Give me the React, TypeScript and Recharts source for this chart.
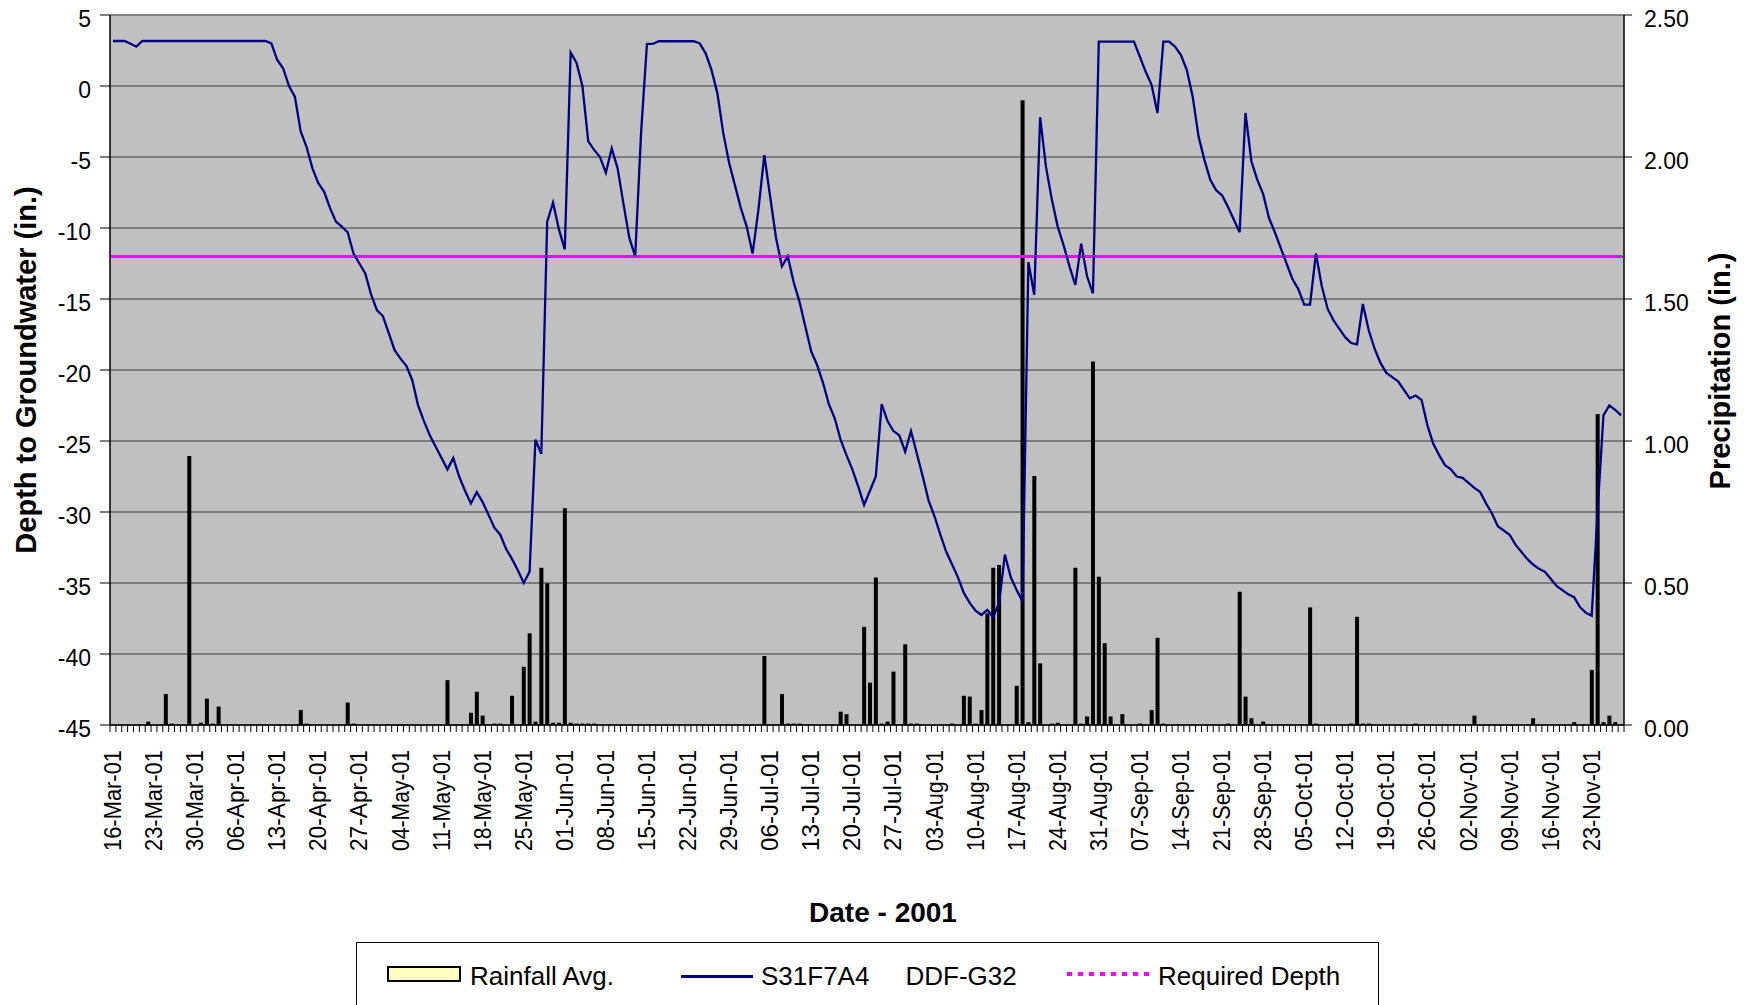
import React from "react";
import {
  ComposedChart,
  Bar,
  Line,
  XAxis,
  YAxis,
  CartesianGrid,
  ReferenceLine,
  Label,
} from "recharts";

const FONT = "'Liberation Sans', Arial, Helvetica, sans-serif";

// daily depth to groundwater (in.), 16-Mar-01 .. 29-Nov-01
const DEPTH_IN = [
  3.17, 3.17, 3.17, 2.97, 2.77, 3.17, 3.17, 3.17, 3.17, 3.17,
  3.17, 3.17, 3.17, 3.17, 3.17, 3.17, 3.17, 3.17, 3.17, 3.17,
  3.17, 3.17, 3.17, 3.17, 3.17, 3.17, 3.17, 3.0, 1.83, 1.25,
  0.0, -0.75, -3.2, -4.3, -5.8, -6.85, -7.45, -8.6, -9.55, -9.9,
  -10.3, -11.8, -12.5, -13.2, -14.7, -15.8, -16.2, -17.4, -18.6, -19.2,
  -19.7, -20.7, -22.5, -23.6, -24.6, -25.4, -26.2, -27.0, -26.2, -27.5,
  -28.5, -29.4, -28.6, -29.3, -30.2, -31.1, -31.6, -32.6, -33.3, -34.1,
  -35.0, -34.2, -24.9, -25.9, -9.55, -8.2, -10.1, -11.5, 2.35, 1.64,
  0.0, -3.9, -4.5, -5.0, -6.1, -4.4, -5.8, -8.3, -10.7, -12.0,
  -3.3, 2.96, 2.96, 3.15, 3.15, 3.15, 3.15, 3.15, 3.15, 3.15,
  3.0, 2.3, 1.13, -0.5, -3.3, -5.4, -7.0, -8.6, -9.9, -11.8,
  -8.7, -4.86, -7.8, -10.7, -12.7, -12.0, -13.8, -15.2, -16.95, -18.7,
  -19.65, -20.9, -22.4, -23.4, -24.9, -26.0, -27.0, -28.2, -29.5, -28.5,
  -27.5, -22.4, -23.6, -24.3, -24.6, -25.75, -24.3, -25.9, -27.5, -29.2,
  -30.3, -31.6, -32.8, -33.7, -34.6, -35.7, -36.4, -36.95, -37.25, -36.9,
  -37.4, -36.4, -33.0, -34.6, -35.5, -36.3, -12.4, -14.7, -2.2, -5.7,
  -8.0, -9.9, -11.2, -12.7, -14.0, -11.1, -13.4, -14.6, 3.12, 3.12,
  3.12, 3.12, 3.12, 3.12, 3.12, 2.06, 1.0, 0.07, -1.9, 3.12,
  3.12, 2.77, 2.18, 1.13, -0.75, -3.56, -5.2, -6.6, -7.35, -7.7,
  -8.5, -9.4, -10.3, -1.9, -5.3, -6.6, -7.6, -9.3, -10.3, -11.4,
  -12.5, -13.6, -14.3, -15.4, -15.4, -11.8, -14.1, -15.7, -16.5, -17.1,
  -17.7, -18.1, -18.2, -15.35, -17.2, -18.5, -19.5, -20.2, -20.5, -20.8,
  -21.4, -22.0, -21.8, -22.1, -23.9, -25.2, -26.0, -26.7, -27.0, -27.5,
  -27.6, -27.95, -28.3, -28.6, -29.4, -30.1, -31.0, -31.3, -31.6, -32.3,
  -32.8, -33.3, -33.7, -34.0, -34.2, -34.7, -35.2, -35.5, -35.8, -36.0,
  -36.7, -37.1, -37.3, -29.9, -23.2, -22.5, -22.8, -23.2,
];

// daily rainfall avg. (in.), same days
const RAIN_IN = [
  0, 0, 0, 0, 0, 0, 0.012, 0, 0, 0.109,
  0.005, 0, 0, 0.947, 0, 0.008, 0.093, 0.005, 0.065, 0,
  0, 0, 0, 0, 0, 0, 0, 0, 0, 0,
  0, 0, 0.053, 0.005, 0, 0, 0, 0, 0, 0,
  0.079, 0.005, 0, 0, 0, 0, 0, 0, 0, 0,
  0, 0, 0, 0, 0, 0, 0, 0.158, 0, 0,
  0, 0.043, 0.117, 0.033, 0, 0.005, 0.005, 0, 0.103, 0,
  0.205, 0.323, 0.012, 0.554, 0.499, 0.008, 0.008, 0.763, 0.008, 0.005,
  0.005, 0.005, 0.005, 0, 0, 0, 0, 0, 0, 0,
  0, 0, 0, 0, 0, 0, 0, 0, 0, 0,
  0, 0, 0, 0, 0, 0, 0, 0, 0, 0,
  0, 0.243, 0, 0, 0.109, 0.005, 0.005, 0.005, 0, 0,
  0, 0, 0, 0, 0.047, 0.038, 0, 0, 0.346, 0.149,
  0.519, 0.005, 0.012, 0.188, 0, 0.284, 0.005, 0.005, 0, 0,
  0, 0, 0, 0.005, 0, 0.103, 0.1, 0.005, 0.053, 0.393,
  0.554, 0.563, 0, 0, 0.138, 2.2, 0.01, 0.877, 0.217, 0,
  0.005, 0.008, 0, 0, 0.554, 0.005, 0.03, 1.28, 0.522, 0.288,
  0.03, 0, 0.038, 0, 0, 0.005, 0, 0.053, 0.307, 0.005,
  0, 0, 0, 0, 0, 0, 0, 0, 0, 0,
  0.005, 0, 0.469, 0.1, 0.024, 0, 0.012, 0, 0, 0,
  0, 0, 0, 0, 0.414, 0.005, 0, 0, 0, 0,
  0, 0.005, 0.381, 0.005, 0.005, 0, 0, 0, 0, 0,
  0, 0, 0.005, 0, 0, 0, 0, 0, 0, 0,
  0, 0, 0.033, 0, 0, 0, 0, 0, 0, 0,
  0, 0, 0.024, 0, 0, 0, 0, 0, 0, 0.01,
  0, 0, 0.194, 1.095, 0.01, 0.033, 0.01, 0,
];

// one label every 7 days
const TICK_LABELS = [
  "16-Mar-01", "23-Mar-01", "30-Mar-01", "06-Apr-01", "13-Apr-01", "20-Apr-01",
  "27-Apr-01", "04-May-01", "11-May-01", "18-May-01", "25-May-01", "01-Jun-01",
  "08-Jun-01", "15-Jun-01", "22-Jun-01", "29-Jun-01", "06-Jul-01", "13-Jul-01",
  "20-Jul-01", "27-Jul-01", "03-Aug-01", "10-Aug-01", "17-Aug-01", "24-Aug-01",
  "31-Aug-01", "07-Sep-01", "14-Sep-01", "21-Sep-01", "28-Sep-01", "05-Oct-01",
  "12-Oct-01", "19-Oct-01", "26-Oct-01", "02-Nov-01", "09-Nov-01", "16-Nov-01",
  "23-Nov-01",
];

const DEPTH_TICKS = [-45, -40, -35, -30, -25, -20, -15, -10, -5, 0, 5];
const RAIN_TICKS = [0, 0.5, 1, 1.5, 2, 2.5];
const REQUIRED_DEPTH = -12;

const data = DEPTH_IN.map((depth, i) => ({ day: i + 0.5, depth, rain: RAIN_IN[i] }));
const dayTicks = [...DEPTH_IN.map((_, i) => i), DEPTH_IN.length];

const DateTick = (props: any) => {
  const { x, y, payload } = props;
  const i = payload.value as number;
  if (i % 7 !== 0 || i / 7 >= TICK_LABELS.length) return <g />;
  const bx = x + 11;
  const by = y + 16;
  return (
    <text
      x={bx}
      y={by}
      transform={`rotate(-90, ${bx}, ${by})`}
      textAnchor="end"
      fontSize={23}
      fontFamily={FONT}
      fill="#000"
      textLength={101}
      lengthAdjust="spacingAndGlyphs"
    >
      {TICK_LABELS[i / 7]}
    </text>
  );
};

const LeftTick = (props: any) => (
  <text x={props.x} y={props.y + 12} textAnchor="end" fontSize={23} fontFamily={FONT} fill="#000">
    {props.payload.value}
  </text>
);

const RightTick = (props: any) => (
  <text x={props.x} y={props.y + 11.5} textAnchor="start" fontSize={23} fontFamily={FONT} fill="#000">
    {Number(props.payload.value).toFixed(2)}
  </text>
);

const vTitle = (text: string, x: number, y: number) => () => (
  <text
    x={x}
    y={y}
    transform={`rotate(-90, ${x}, ${y})`}
    textAnchor="middle"
    fontSize={29}
    fontWeight="bold"
    fontFamily={FONT}
    fill="#000"
  >
    {text}
  </text>
);

const legendText: React.CSSProperties = {
  position: "absolute",
  top: 20,
  fontSize: 26,
  lineHeight: "26px",
  fontFamily: FONT,
  whiteSpace: "pre",
  color: "#000",
};

export default function App() {
  return (
    <div style={{ position: "relative", width: 1754, height: 1005, overflow: "hidden", background: "#fff" }}>
      <style>{"body{margin:0}"}</style>
      <ComposedChart width={1754} height={1005} data={data} margin={{ top: 15, right: 0, bottom: 140, left: 0 }}>
        <CartesianGrid yAxisId="left" vertical={false} stroke="#3a3a3a" fill="#C0C0C0" />
        <XAxis
          type="number"
          dataKey="day"
          domain={[0, 258]}
          ticks={dayTicks}
          interval={0}
          tickSize={7}
          tickLine={{ stroke: "#000" }}
          axisLine={{ stroke: "#000", strokeWidth: 1.5 }}
          tick={DateTick}
          height={140}
        >
          <Label
            content={() => (
              <text x={883} y={922} textAnchor="middle" fontSize={28} fontWeight="bold" fontFamily={FONT} fill="#000">
                Date - 2001
              </text>
            )}
          />
        </XAxis>
        <YAxis
          yAxisId="left"
          orientation="left"
          width={110}
          domain={[-45, 5]}
          ticks={DEPTH_TICKS}
          interval={0}
          tickSize={10}
          tickMargin={9}
          tickLine={{ stroke: "#000" }}
          axisLine={{ stroke: "#000", strokeWidth: 1.5 }}
          tick={LeftTick}
        >
          <Label content={vTitle("Depth to Groundwater (in.)", 36, 370)} />
        </YAxis>
        <YAxis
          yAxisId="right"
          orientation="right"
          width={130}
          domain={[0, 2.5]}
          ticks={RAIN_TICKS}
          interval={0}
          tickSize={8}
          tickMargin={12}
          tickLine={{ stroke: "#000" }}
          axisLine={{ stroke: "#000", strokeWidth: 1.5 }}
          tick={RightTick}
        >
          <Label content={vTitle("Precipitation (in.)", 1730, 371)} />
        </YAxis>
        <ReferenceLine yAxisId="left" y={5} stroke="#808080" strokeWidth={1.5} />
        <ReferenceLine yAxisId="left" y={REQUIRED_DEPTH} stroke="#FF00FF" strokeWidth={3} />
        <Bar dataKey="rain" yAxisId="right" fill="#000" barSize={4} isAnimationActive={false} />
        <Line
          type="linear"
          dataKey="depth"
          yAxisId="left"
          stroke="#000080"
          strokeWidth={2.3}
          dot={false}
          activeDot={false}
          isAnimationActive={false}
        />
      </ComposedChart>

      <div
        style={{
          position: "absolute",
          left: 356,
          top: 942,
          width: 1023,
          height: 90,
          border: "1.5px solid #000",
          boxSizing: "border-box",
          background: "#fff",
        }}
      >
        <div
          style={{
            position: "absolute",
            left: 30,
            top: 23,
            width: 74,
            height: 16,
            background: "#FFFFC0",
            border: "2px solid #000",
            boxSizing: "border-box",
          }}
        />
        <span style={{ ...legendText, left: 113 }}>Rainfall Avg.</span>
        <div style={{ position: "absolute", left: 324, top: 32, width: 72, height: 3, background: "#000080" }} />
        <span style={{ ...legendText, left: 404 }}>{"S31F7A4     DDF-G32"}</span>
        <div
          style={{
            position: "absolute",
            left: 710,
            top: 29,
            width: 86,
            height: 4,
            background: "repeating-linear-gradient(to right, #FF00FF 0 5px, transparent 5px 11px)",
          }}
        />
        <span style={{ ...legendText, left: 801 }}>Required Depth</span>
      </div>
    </div>
  );
}
